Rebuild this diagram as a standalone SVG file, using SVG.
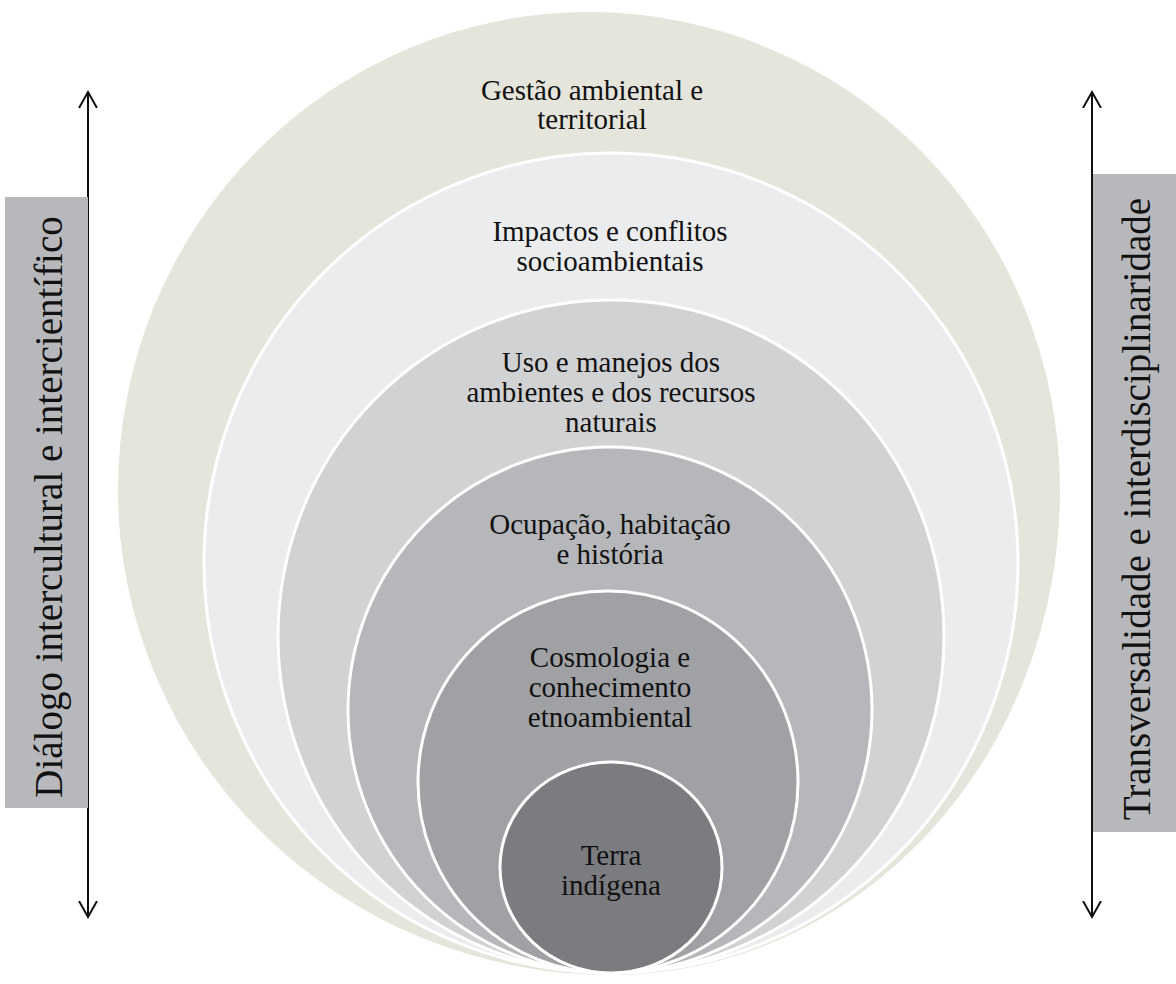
<svg xmlns="http://www.w3.org/2000/svg" width="1176" height="984" viewBox="0 0 1176 984">
<defs>
<style>
.ring{stroke:#ffffff;stroke-width:3}
.lbl{font-family:"Liberation Serif","Times New Roman",serif;font-size:29px;fill:#111;text-anchor:middle}
.side{font-family:"Liberation Serif","Times New Roman",serif;font-size:39px;fill:#111;text-anchor:middle}
.box{fill:#b7b8bb}
.arr{stroke:#111;stroke-width:2;fill:none}
</style>
<marker id="chev" viewBox="0 0 20 20" refX="16" refY="10" markerWidth="20" markerHeight="20" markerUnits="userSpaceOnUse" orient="auto-start-reverse">
<path d="M0,1 L16,10 L0,19" fill="none" stroke="#111" stroke-width="2"/>
</marker>
</defs>
<rect width="1176" height="984" fill="#ffffff"/>

<g id="connectors">
<line class="arr" x1="88" y1="92" x2="88" y2="917" marker-start="url(#chev)" marker-end="url(#chev)"/>
<line class="arr" x1="1092" y1="92" x2="1092" y2="917" marker-start="url(#chev)" marker-end="url(#chev)"/>
</g>

<g id="left-label">
<rect class="box" x="5" y="197" width="83" height="611"/>
<text class="side" transform="translate(62,507) rotate(-90)">Diálogo intercultural e intercientífico</text>
</g>
<g id="right-label">
<rect class="box" x="1093" y="174" width="83" height="658"/>
<text class="side" transform="translate(1150,509) rotate(-90)">Transversalidade e interdisciplinaridade</text>
</g>

<g id="gestao">
<path d="M589,12 A471,478 0 0 1 1060,490 A449,485 0 0 1 611,975 A493,485 0 0 1 118,490 A471,478 0 0 1 589,12 Z" fill="#e6e5dc"/>
<text class="lbl" x="592" y="100">Gestão ambiental e</text>
<text class="lbl" x="592" y="129">territorial</text>
</g>
<g id="impactos">
<ellipse class="ring" cx="611" cy="563" rx="407" ry="410" fill="#ebecee"/>
<text class="lbl" x="610" y="241">Impactos e conflitos</text>
<text class="lbl" x="610" y="271">socioambientais</text>
</g>
<g id="uso">
<ellipse class="ring" cx="611" cy="636.5" rx="333" ry="336.5" fill="#d1d2d4"/>
<text class="lbl" x="611" y="372">Uso e manejos dos</text>
<text class="lbl" x="611" y="402">ambientes e dos recursos</text>
<text class="lbl" x="611" y="432">naturais</text>
</g>
<g id="ocupacao">
<ellipse class="ring" cx="610" cy="710" rx="262" ry="263" fill="#b5b7ba"/>
<text class="lbl" x="610" y="534">Ocupação, habitação</text>
<text class="lbl" x="610" y="564">e história</text>
</g>
<g id="cosmologia">
<ellipse class="ring" cx="608" cy="782" rx="190" ry="191" fill="#9fa1a4"/>
<text class="lbl" x="610" y="667">Cosmologia e</text>
<text class="lbl" x="610" y="697">conhecimento</text>
<text class="lbl" x="610" y="727">etnoambiental</text>
</g>
<g id="terra">
<ellipse class="ring" cx="611" cy="867.5" rx="111" ry="105.5" fill="#7b7c80"/>
<text class="lbl" x="611" y="865">Terra</text>
<text class="lbl" x="611" y="895">indígena</text>
</g>
</svg>
